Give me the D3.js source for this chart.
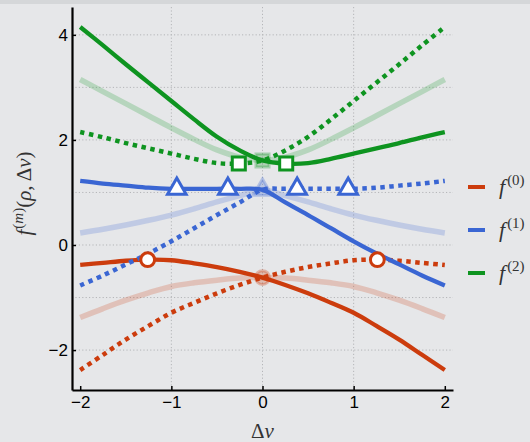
<!DOCTYPE html>
<html>
<head>
<meta charset="utf-8">
<script src="https://cdn.jsdelivr.net/npm/d3@7"></script>
<style>
  body { margin: 0; background: #e6e7e9; }
  svg { display: block; }
  .tick text { font-family: "Liberation Sans", Arial, sans-serif; font-size: 17px; fill: #000; }
  .math { font-family: "Liberation Serif", "DejaVu Serif", serif; fill: #333; }
</style>
</head>
<body>
<svg id="chart" width="530" height="442"></svg>
<script>
// sample positions along Δv
const dv = [-2, -1.75, -1.5, -1.25, -1, -0.75, -0.5, -0.25, 0, 0.25, 0.5, 0.75, 1, 1.25, 1.5, 1.75, 2];

// f(0) - red
const f0Solid  = [-0.38, -0.34, -0.30, -0.28, -0.29, -0.35, -0.42, -0.51, -0.62, -0.76, -0.92, -1.10, -1.29, -1.54, -1.80, -2.09, -2.38];
const f0Dotted = [-2.38, -2.09, -1.80, -1.54, -1.29, -1.10, -0.92, -0.76, -0.62, -0.51, -0.42, -0.35, -0.29, -0.28, -0.30, -0.34, -0.38];
const f0Faded  = [-1.38, -1.21, -1.05, -0.91, -0.79, -0.72, -0.67, -0.63, -0.62, -0.63, -0.67, -0.72, -0.79, -0.91, -1.05, -1.21, -1.38];

// f(1) - blue
const f1Solid  = [1.22, 1.17, 1.13, 1.09, 1.07, 1.07, 1.07, 1.07, 1.05, 0.81, 0.57, 0.32, 0.07, -0.16, -0.37, -0.58, -0.77];
const f1Dotted = [-0.77, -0.58, -0.37, -0.16, 0.07, 0.32, 0.57, 0.81, 1.05, 1.07, 1.07, 1.07, 1.07, 1.09, 1.13, 1.17, 1.22];
const f1Faded  = [0.23, 0.30, 0.38, 0.47, 0.57, 0.69, 0.82, 0.94, 1.05, 0.94, 0.82, 0.69, 0.57, 0.47, 0.38, 0.30, 0.23];

// f(2) - green
const f2Solid  = [4.15, 3.80, 3.44, 3.09, 2.74, 2.39, 2.06, 1.80, 1.61, 1.55, 1.56, 1.64, 1.74, 1.84, 1.94, 2.05, 2.15];
const f2Dotted = [2.15, 2.05, 1.94, 1.84, 1.74, 1.64, 1.56, 1.55, 1.61, 1.80, 2.06, 2.39, 2.74, 3.09, 3.44, 3.80, 4.15];
const f2Faded  = [3.15, 2.92, 2.69, 2.46, 2.23, 2.01, 1.81, 1.67, 1.61, 1.67, 1.81, 2.01, 2.23, 2.46, 2.69, 2.92, 3.15];

// stationary-point markers [Δv, value]
const f0Marks = [[-1.26, -0.28], [1.26, -0.28]];
const f0MarkFaded = [[0, -0.62]];
const f1Marks = [[-0.94, 1.07], [-0.38, 1.07], [0.38, 1.07], [0.94, 1.07]];
const f1MarkFaded = [[0, 1.05]];
const f2Marks = [[-0.26, 1.55], [0.26, 1.55]];
const f2MarkFaded = [[0, 1.61]];

const xTicks = [-2, -1, 0, 1, 2];
const yTicks = [-2, 0, 2, 4];
const xGrid = [-1, 0, 1];
const yGrid = [-2, -1, 0, 1, 2, 3, 4];
const legendLabels = ['0', '1', '2'];

const colors = ['#cc3c0d', '#3a66d3', '#0e9420'];

const svg = d3.select('#chart');

svg.append('rect').attr('width', 530).attr('height', 442).attr('fill', '#e6e7e9');
svg.append('rect').attr('width', 530).attr('height', 4).attr('fill', '#d5d7d9');

const x = d3.scaleLinear().domain([-2.09, 2.09]).range([72, 453]);
const y = d3.scaleLinear().domain([-2.76, 4.53]).range([390, 7]);

// grid
const grid = svg.append('g').attr('stroke', '#b4b5b8').attr('stroke-width', 1).attr('stroke-dasharray', '1.2 2.2');
grid.selectAll('.gx').data(xGrid).join('line')
  .attr('x1', d => x(d)).attr('x2', d => x(d))
  .attr('y1', y.range()[1]).attr('y2', y.range()[0]);
grid.selectAll('.gy').data(yGrid).join('line')
  .attr('y1', d => y(d)).attr('y2', d => y(d))
  .attr('x1', x.range()[0]).attr('x2', x.range()[1]);

const line = d3.line()
  .x((d, i) => x(dv[i]))
  .y(d => y(d))
  .curve(d3.curveCatmullRom.alpha(0.5));

const plot = svg.append('g');

// faded curves first
[f0Faded, f1Faded, f2Faded].forEach((s, i) => {
  plot.append('path').datum(s)
    .attr('fill', 'none')
    .attr('stroke', colors[i])
    .attr('stroke-opacity', 0.22)
    .attr('stroke-width', 5.5)
    .attr('d', line);
});

// solid + dotted
[[f0Solid, f0Dotted], [f1Solid, f1Dotted], [f2Solid, f2Dotted]].forEach((pair, i) => {
  plot.append('path').datum(pair[1])
    .attr('fill', 'none')
    .attr('stroke', colors[i])
    .attr('stroke-width', 4.5)
    .attr('stroke-dasharray', '4.5 4.5')
    .attr('d', line);
  plot.append('path').datum(pair[0])
    .attr('fill', 'none')
    .attr('stroke', colors[i])
    .attr('stroke-width', 4.3)
    .attr('d', line);
});

// markers
const shapes = [
  d3.symbol().type(d3.symbolCircle).size(150),
  d3.symbol().type(d3.symbolTriangle).size(150),
  d3.symbol().type(d3.symbolSquare).size(170)
];
const markSets = [[f0Marks, f0MarkFaded], [f1Marks, f1MarkFaded], [f2Marks, f2MarkFaded]];
markSets.forEach((sets, i) => {
  plot.selectAll(null).data(sets[1]).join('path')
    .attr('transform', d => `translate(${x(d[0])},${y(d[1])})`)
    .attr('d', shapes[i])
    .attr('fill', colors[i]).attr('fill-opacity', 0.25)
    .attr('stroke', colors[i]).attr('stroke-opacity', 0.3)
    .attr('stroke-width', 3);
  plot.selectAll(null).data(sets[0]).join('path')
    .attr('transform', d => `translate(${x(d[0])},${y(d[1])})`)
    .attr('d', shapes[i])
    .attr('fill', '#fff')
    .attr('stroke', colors[i])
    .attr('stroke-width', 3);
});

// axes
const xAxis = svg.append('g')
  .attr('transform', `translate(0,${y.range()[0]})`)
  .call(d3.axisBottom(x).tickValues(xTicks).tickFormat(d3.format('d')).tickSizeInner(-4).tickSizeOuter(0).tickPadding(6));
const yAxis = svg.append('g')
  .attr('transform', `translate(${x.range()[0]},0)`)
  .call(d3.axisLeft(y).tickValues(yTicks).tickFormat(d3.format('d')).tickSizeInner(-4).tickSizeOuter(0).tickPadding(4));
[xAxis, yAxis].forEach(a => {
  a.select('.domain').attr('stroke', '#000').attr('stroke-width', 2.2);
  a.selectAll('.tick line').attr('stroke', '#000').attr('stroke-width', 1.5);
});

// axis labels
const xl = svg.append('text').attr('class', 'math')
  .attr('x', x(0)).attr('y', 438)
  .attr('text-anchor', 'middle').attr('font-size', 21);
xl.append('tspan').text('Δ');
xl.append('tspan').attr('font-style', 'italic').text('v');

const yl = svg.append('text').attr('class', 'math')
  .attr('transform', `translate(31,${y(0.98)}) rotate(-90)`)
  .attr('text-anchor', 'middle').attr('font-size', 21);
yl.append('tspan').attr('font-style', 'italic').text('f');
yl.append('tspan').attr('font-size', 15).attr('dy', -8).attr('dx', 1).text('(');
yl.append('tspan').attr('font-size', 15).attr('font-style', 'italic').text('m');
yl.append('tspan').attr('font-size', 15).text(')');
yl.append('tspan').attr('dy', 8).text('(');
yl.append('tspan').attr('font-style', 'italic').text('ρ');
yl.append('tspan').text(', Δ');
yl.append('tspan').attr('font-style', 'italic').text('v');
yl.append('tspan').text(')');

// legend
const legend = svg.append('g').attr('transform', 'translate(468,187)');
legendLabels.forEach((lab, i) => {
  const g = legend.append('g').attr('transform', `translate(0,${i * 43})`);
  g.append('line').attr('x1', 0).attr('x2', 17).attr('y1', 0).attr('y2', 0)
    .attr('stroke', colors[i]).attr('stroke-width', 4);
  const t = g.append('text').attr('class', 'math').attr('x', 31).attr('y', 7).attr('font-size', 22);
  t.append('tspan').attr('font-style', 'italic').text('f');
  t.append('tspan').attr('font-size', 15).attr('dy', -9).attr('dx', 2).text(`(${lab})`);
});
</script>
</body>
</html>
